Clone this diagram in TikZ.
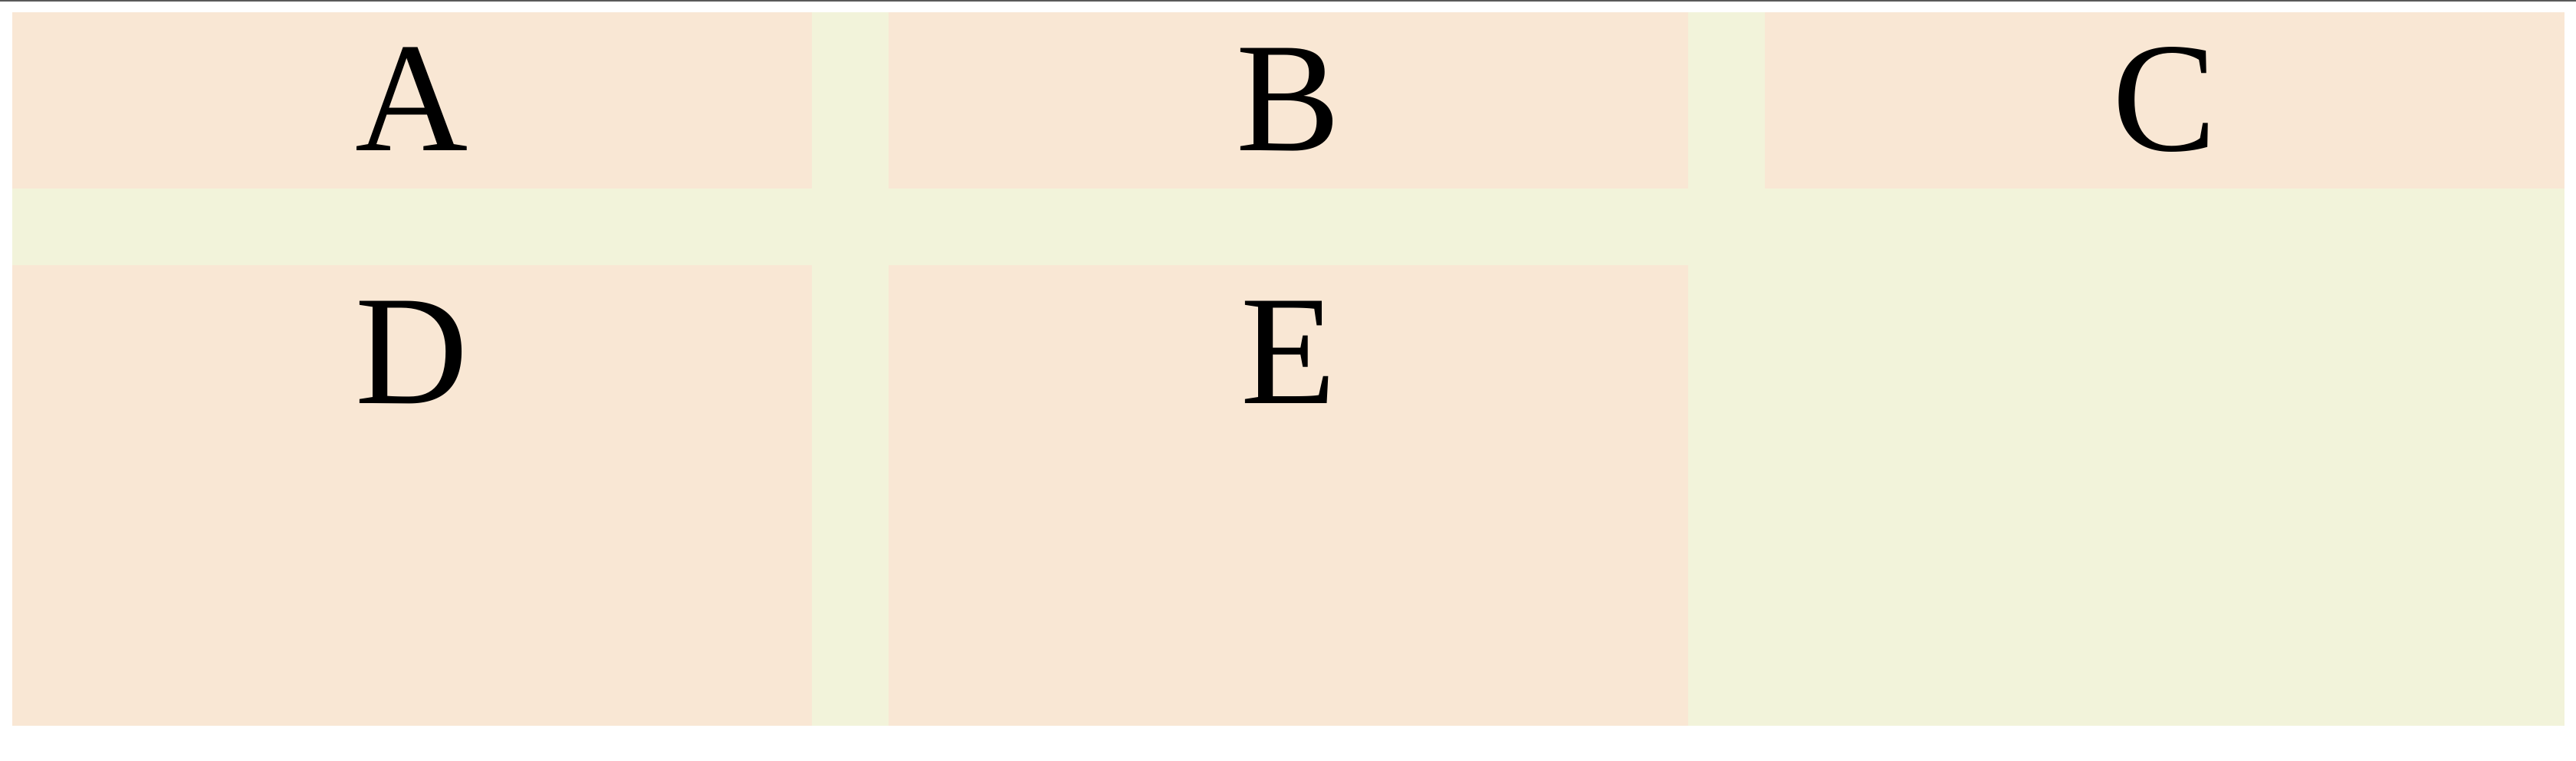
\documentclass[tikz,border=0pt]{standalone}
\usepackage{fontspec}
\setmainfont{Liberation Serif}
\usetikzlibrary{positioning,backgrounds}
\definecolor{cellorange}{RGB}{249,231,212}
\definecolor{gapgreen}{RGB}{242,243,218}
\begin{document}
\begin{tikzpicture}[
                node distance=1cm,
                every node/.style={inner sep=0pt,outer sep=0pt,font=\fontsize{58}{60}\selectfont},
                cell/.style={fill=cellorange,minimum width=10.43cm,text height=1.8cm},
                toprow/.style={cell,minimum height=2.3cm,text depth=0.5cm},
                lowrow/.style={cell,minimum height=6cm,text depth=4.21cm}
            ]
            \useasboundingbox (0,0) rectangle (33.6,-9.92);
            \draw[black!65,line width=0.02cm] (0,-0.01) -- (33.6,-0.01);

            % top row
            \node[toprow,anchor=north west] (A) at (0.16,-0.16) {A};
            \node[toprow,right=of A] (B) {B};
            \node[toprow,right=of B] (C) {C};

            % bottom row
            \node[lowrow,below=of A] (D) {D};
            \node[lowrow,below=of B] (E) {E};

            \begin{scope}[on background layer]
                \fill[gapgreen] (A.north west) rectangle (D.south -| C.east);
            \end{scope}

        \end{tikzpicture}
\end{document}
